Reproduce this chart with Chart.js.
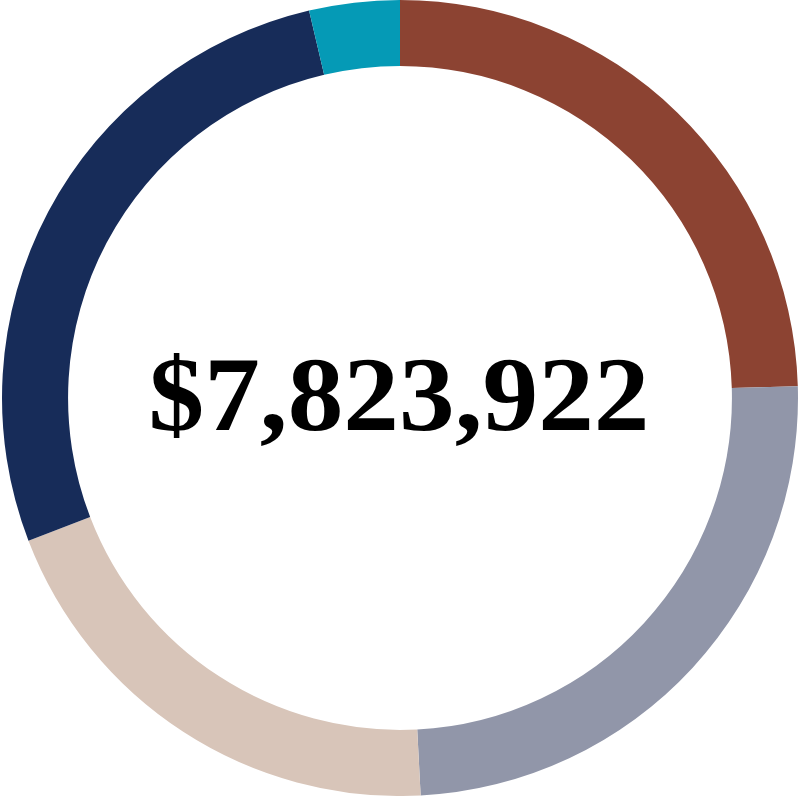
<!DOCTYPE html>
<html>
<head>
<meta charset="utf-8">
<script src="https://cdn.jsdelivr.net/npm/chart.js@4/dist/chart.umd.min.js"></script>
<style>
html,body{margin:0;padding:0;background:#fff;overflow:hidden;}
canvas{display:block;}
</style>
</head>
<body>
<canvas id="c" width="800" height="796"></canvas>
<script>
const categories = ["Segment A", "Segment B", "Segment C", "Segment D", "Segment E"];
const values = [1919000, 1928600, 1564000, 2125800, 287100];
const colors = ["#8C4332", "#9196A9", "#D8C5B9", "#172C59", "#059AB6"];
const totalLabel = "$7,823,922";

const centerText = {
  id: 'centerText',
  afterDraw(chart) {
    const ctx = chart.ctx;
    const a = chart.chartArea;
    const cx = (a.left + a.right) / 2 - 1;
    ctx.save();
    ctx.font = 'bold 105px "Liberation Serif", "DejaVu Serif", serif';
    ctx.fillStyle = '#000';
    ctx.textBaseline = 'alphabetic';
    ctx.textAlign = 'center';
    const w = ctx.measureText(totalLabel).width;
    const target = 501;
    ctx.translate(cx, 430);
    ctx.scale(target / w, 1);
    ctx.fillText(totalLabel, 0, 0);
    ctx.restore();
  }
};

new Chart(document.getElementById('c'), {
  type: 'doughnut',
  data: {
    labels: categories,
    datasets: [{
      data: values,
      backgroundColor: colors,
      borderWidth: 0,
      hoverOffset: 0
    }]
  },
  options: {
    responsive: false,
    animation: false,
    cutout: '83.4%',
    layout: { padding: 0 },
    plugins: { legend: { display: false }, tooltip: { enabled: false } }
  },
  plugins: [centerText]
});
</script>
</body>
</html>
